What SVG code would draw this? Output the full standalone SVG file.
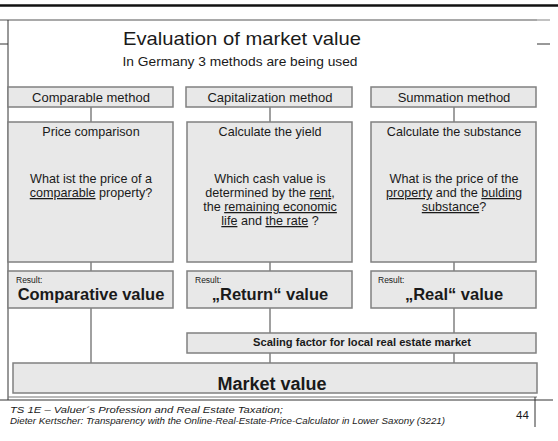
<svg xmlns="http://www.w3.org/2000/svg" width="558" height="441" viewBox="0 0 558 441">
  <style>
    .box { fill: #e8e8e8; stroke: #808080; stroke-width: 1.5; }
    .link { stroke: #808080; stroke-width: 1.5; fill: none; }
    .frame { stroke: #333; stroke-width: 1; fill: none; }
    text { font-family: "Liberation Sans", Arial, sans-serif; fill: #1a1a1a; }
    .hd { font-size: 13px; text-anchor: middle; }
    .bd { font-size: 12.6px; text-anchor: middle; }
    .sm { font-size: 8.5px; }
    .res { font-size: 16.5px; font-weight: bold; text-anchor: middle; }
    .u { text-decoration: underline; }
    .foot { font-size: 9.5px; font-style: italic; }
  </style>

  <rect width="558" height="441" fill="#ffffff"/>

  <!-- page frame -->
  <g id="frame">
    <line x1="0" y1="5.5" x2="558" y2="5.5" stroke="#111" stroke-width="2.5"/>
    <line x1="0" y1="20" x2="537" y2="20" stroke="#555" stroke-width="1.2"/>
    <line x1="537" y1="20" x2="550" y2="20" stroke="#999" stroke-width="1.2"/>
    <line class="frame" x1="8" y1="20" x2="8" y2="400"/>
    <line class="frame" x1="0" y1="44" x2="8" y2="44"/>
    <line class="frame" x1="537" y1="44" x2="550" y2="44"/>
    <line x1="8" y1="397" x2="537" y2="397" stroke="#777" stroke-width="1"/>
    <line class="frame" x1="0" y1="400" x2="553" y2="400"/>
    <line class="frame" x1="535" y1="397" x2="535" y2="427"/>
  </g>

  <!-- heading -->
  <g id="title">
    <text x="242" y="45" font-size="19" text-anchor="middle" textLength="238" lengthAdjust="spacingAndGlyphs">Evaluation of market value</text>
    <text x="240" y="66" font-size="12.5" text-anchor="middle" textLength="235" lengthAdjust="spacingAndGlyphs">In Germany 3 methods are being used</text>
  </g>

  <!-- connectors -->
  <g id="connectors">
    <line class="link" x1="91" y1="107" x2="91" y2="122"/>
    <line class="link" x1="270" y1="107" x2="270" y2="122"/>
    <line class="link" x1="454" y1="107" x2="454" y2="122"/>
    <line class="link" x1="91" y1="262" x2="91" y2="271"/>
    <line class="link" x1="270" y1="262" x2="270" y2="271"/>
    <line class="link" x1="454" y1="262" x2="454" y2="271"/>
    <line class="link" x1="91" y1="308" x2="91" y2="363"/>
    <line class="link" x1="270" y1="308" x2="270" y2="333"/>
    <line class="link" x1="454" y1="308" x2="454" y2="333"/>
    <line class="link" x1="270" y1="353" x2="270" y2="363"/>
    <line class="link" x1="454" y1="353" x2="454" y2="363"/>
  </g>

  <!-- method headers -->
  <g id="comparable-method">
    <rect class="box" x="8" y="87" width="165" height="20"/>
    <text class="hd" x="91" y="102">Comparable method</text>
  </g>
  <g id="capitalization-method">
    <rect class="box" x="186" y="87" width="166" height="20"/>
    <text class="hd" x="270" y="102">Capitalization method</text>
  </g>
  <g id="summation-method">
    <rect class="box" x="371" y="87" width="165" height="20"/>
    <text class="hd" x="454" y="102">Summation method</text>
  </g>

  <!-- method descriptions -->
  <g id="price-comparison">
    <rect class="box" x="8" y="122" width="165" height="140"/>
    <text class="bd" x="91" y="136">Price comparison</text>
    <text class="bd" x="91" y="183">What ist the price of a</text>
    <text class="bd" x="91" y="197"><tspan class="u">comparable</tspan> property?</text>
  </g>
  <g id="calculate-yield">
    <rect class="box" x="187" y="122" width="165" height="140"/>
    <text class="bd" x="270" y="136">Calculate the yield</text>
    <text class="bd" x="270" y="183">Which cash value is</text>
    <text class="bd" x="270" y="197">determined by the <tspan class="u">rent</tspan>,</text>
    <text class="bd" x="270" y="211">the <tspan class="u">remaining economic</tspan></text>
    <text class="bd" x="270" y="225"><tspan class="u">life</tspan> and <tspan class="u">the rate</tspan> ?</text>
  </g>
  <g id="calculate-substance">
    <rect class="box" x="371" y="122" width="165" height="140"/>
    <text class="bd" x="454" y="136">Calculate the substance</text>
    <text class="bd" x="454" y="183">What is the price of the</text>
    <text class="bd" x="454" y="197"><tspan class="u">property</tspan> and the <tspan class="u">bulding</tspan></text>
    <text class="bd" x="454" y="211"><tspan class="u">substance</tspan>?</text>
  </g>

  <!-- results -->
  <g id="comparative-value">
    <rect class="box" x="8" y="271" width="165" height="37"/>
    <text class="sm" x="16" y="283">Result:</text>
    <text class="res" x="91" y="300">Comparative value</text>
  </g>
  <g id="return-value">
    <rect class="box" x="187" y="271" width="165" height="37"/>
    <text class="sm" x="195" y="283">Result:</text>
    <text class="res" x="270" y="300">„Return“ value</text>
  </g>
  <g id="real-value">
    <rect class="box" x="371" y="271" width="165" height="37"/>
    <text class="sm" x="378" y="283">Result:</text>
    <text class="res" x="454" y="300">„Real“ value</text>
  </g>

  <!-- scaling factor -->
  <g id="scaling-factor">
    <rect class="box" x="187" y="333" width="349" height="20"/>
    <text x="362" y="346" font-size="10" font-weight="bold" text-anchor="middle" textLength="218" lengthAdjust="spacingAndGlyphs">Scaling factor for local real estate market</text>
  </g>

  <!-- market value -->
  <g id="market-value">
    <rect class="box" x="13" y="363" width="524" height="30"/>
    <text x="272" y="390" font-size="18" font-weight="bold" text-anchor="middle">Market value</text>
  </g>

  <!-- footer -->
  <g id="footer">
    <text class="foot" x="10" y="413" textLength="273" lengthAdjust="spacingAndGlyphs">TS 1E – Valuer´s Profession and Real Estate Taxation;</text>
    <text class="foot" x="10" y="424" textLength="435" lengthAdjust="spacingAndGlyphs">Dieter Kertscher: Transparency with the Online-Real-Estate-Price-Calculator in Lower Saxony (3221)</text>
    <text x="516" y="419" font-size="11.5">44</text>
  </g>
</svg>
